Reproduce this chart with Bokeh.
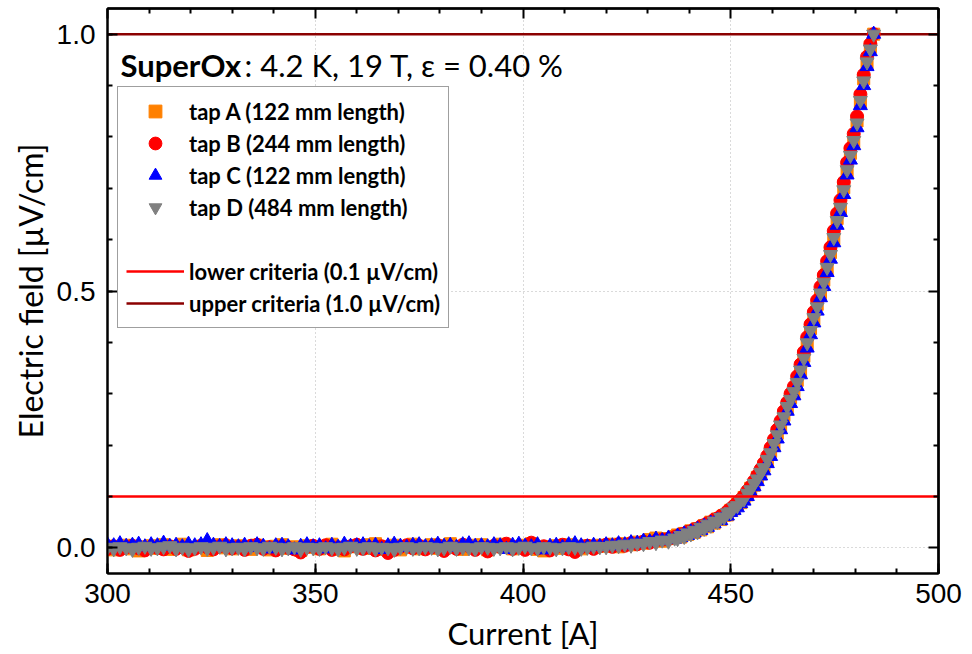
from bokeh.plotting import figure
from bokeh.models import (Range1d, LinearAxis, SingleIntervalTicker, FixedTicker,
                          Legend, LegendItem, Label, PrintfTickFormatter)
from bokeh.embed import file_html
from bokeh.resources import INLINE

# Transport current [A], shared by all voltage taps
current = [
    300.0, 301.5, 303.0, 304.5, 306.0, 307.5, 309.0, 310.5, 312.0, 313.5,
    315.0, 316.5, 318.0, 319.5, 321.0, 322.5, 324.0, 325.5, 327.0, 328.5,
    330.0, 331.5, 333.0, 334.5, 336.0, 337.5, 339.0, 340.5, 342.0, 343.5,
    345.0, 346.5, 348.0, 349.5, 351.0, 352.5, 354.0, 355.5, 357.0, 358.5,
    360.0, 361.5, 363.0, 364.5, 366.0, 367.5, 369.0, 370.5, 372.0, 373.5,
    375.0, 376.5, 378.0, 379.5, 381.0, 382.5, 384.0, 385.5, 387.0, 388.5,
    390.0, 391.5, 393.0, 394.5, 396.0, 397.5, 399.0, 400.5, 402.0, 403.5,
    405.0, 406.5, 408.0, 409.5, 411.0, 412.5, 414.0, 415.5, 417.0, 418.5,
    420.0, 421.5, 423.0, 424.5, 426.0, 427.5, 429.0, 430.5, 432.0, 433.5,
    435.0, 436.5, 437.2, 438.0, 438.8, 439.6, 440.4, 441.2, 442.0, 442.8,
    443.6, 444.4, 445.2, 446.0, 446.8, 447.6, 448.4, 449.2, 450.0, 450.8,
    451.6, 452.4, 453.2, 454.0, 454.8, 455.6, 456.4, 457.2, 458.0, 458.8,
    459.6, 460.4, 461.2, 462.0, 462.8, 463.6, 464.4, 465.2, 466.0, 466.8,
    467.6, 468.4, 469.2, 470.0, 470.8, 471.6, 472.4, 473.2, 474.0, 474.8,
    475.6, 476.4, 477.2, 478.0, 478.8, 479.6, 480.4, 481.2, 482.0, 482.8,
    483.6, 484.4,
]

# Electric field [uV/cm] measured on each tap
tap_a = [
    0.003, -0.004, 0.001, 0.005, -0.002, -0.006, 0.002, 0.004, -0.001, 0.006,
    -0.003, 0.002, 0.007, -0.004, 0.001, 0.003, -0.005, 0.002, 0.006, 0.000,
    -0.002, 0.004, 0.001, -0.003, 0.005, 0.002, -0.004, 0.003, 0.006, -0.001,
    0.002, -0.005, 0.004, 0.001, -0.002, 0.003, 0.007, -0.003, -0.006, 0.002,
    0.004, -0.001, 0.006, 0.008, -0.003, 0.002, 0.005, -0.004, 0.001, 0.007,
    -0.002, 0.003, 0.006, -0.001, 0.004, 0.008, 0.002, -0.003, 0.005, 0.001,
    0.006, -0.004, 0.002, 0.007, 0.003, -0.002, 0.001, 0.005, 0.008, -0.003,
    -0.006, 0.002, 0.004, -0.001, 0.006, 0.003, -0.002, 0.004, 0.001, 0.005,
    0.003, 0.007, 0.002, 0.008, 0.006, 0.011, 0.009, 0.016, 0.019, 0.013,
    0.018, 0.022, 0.025, 0.021, 0.028, 0.026, 0.033, 0.030, 0.037, 0.035,
    0.043, 0.041, 0.050, 0.048, 0.056, 0.055, 0.063, 0.064, 0.073, 0.076,
    0.085, 0.088, 0.098, 0.103, 0.116, 0.122, 0.137, 0.144, 0.159, 0.169,
    0.188, 0.200, 0.223, 0.236, 0.258, 0.272, 0.292, 0.301, 0.326, 0.343,
    0.373, 0.396, 0.427, 0.444, 0.474, 0.492, 0.521, 0.543, 0.575, 0.600,
    0.641, 0.660, 0.701, 0.732, 0.768, 0.789, 0.831, 0.867, 0.913, 0.942,
    0.975, 1.000,
]
tap_b = [
    -0.002, 0.003, -0.004, 0.001, 0.004, -0.001, -0.005, 0.002, 0.000, -0.003,
    0.003, -0.002, 0.001, -0.006, -0.002, 0.004, 0.001, -0.003, 0.003, 0.005,
    -0.001, 0.002, -0.004, 0.004, 0.006, -0.002, 0.001, -0.005, 0.003, 0.000,
    -0.003, -0.009, 0.002, 0.004, -0.002, 0.005, -0.004, 0.001, -0.003, 0.003,
    0.006, -0.002, 0.001, -0.005, 0.003, -0.010, -0.004, 0.002, 0.005, -0.001,
    0.004, -0.003, 0.001, 0.005, -0.006, 0.002, -0.002, 0.006, 0.003, -0.004,
    0.001, -0.007, 0.004, 0.002, 0.008, -0.002, 0.003, -0.004, 0.010, -0.001,
    0.003, -0.005, 0.002, 0.006, -0.003, -0.008, 0.001, 0.004, -0.002, 0.003,
    0.006, 0.002, 0.007, 0.004, 0.009, 0.007, 0.012, 0.010, 0.014, 0.016,
    0.017, 0.021, 0.023, 0.026, 0.027, 0.031, 0.032, 0.036, 0.037, 0.042,
    0.044, 0.048, 0.049, 0.055, 0.057, 0.062, 0.065, 0.071, 0.076, 0.082,
    0.088, 0.094, 0.101, 0.111, 0.119, 0.130, 0.141, 0.153, 0.165, 0.179,
    0.195, 0.211, 0.230, 0.247, 0.266, 0.283, 0.300, 0.314, 0.334, 0.357,
    0.381, 0.410, 0.435, 0.459, 0.482, 0.508, 0.531, 0.558, 0.585, 0.617,
    0.651, 0.677, 0.712, 0.750, 0.778, 0.806, 0.840, 0.883, 0.921, 0.956,
    0.981, 1.000,
]
tap_c = [
    0.006, 0.004, 0.008, 0.003, 0.005, 0.007, 0.002, 0.006, 0.004, 0.009,
    0.003, 0.005, 0.002, 0.007, 0.004, 0.006, 0.014, 0.005, 0.003, 0.006,
    0.004, 0.002, 0.005, 0.001, 0.006, 0.003, -0.002, 0.004, 0.005, 0.002,
    -0.004, 0.003, 0.006, 0.002, 0.004, -0.002, 0.005, 0.001, 0.007, 0.003,
    0.004, 0.006, 0.002, 0.005, -0.003, 0.004, 0.007, 0.003, 0.001, 0.005,
    0.006, 0.002, 0.004, 0.007, 0.003, 0.005, 0.001, 0.006, 0.008, 0.003,
    0.004, 0.002, 0.006, 0.004, -0.003, 0.005, 0.007, 0.003, 0.002, 0.006,
    -0.004, 0.003, 0.005, 0.001, 0.006, 0.008, 0.004, 0.002, 0.005, 0.003,
    0.006, 0.004, 0.008, 0.006, 0.010, 0.009, 0.013, 0.012, 0.017, 0.014,
    0.019, 0.017, 0.023, 0.020, 0.027, 0.024, 0.031, 0.029, 0.036, 0.034,
    0.042, 0.040, 0.048, 0.047, 0.054, 0.053, 0.061, 0.062, 0.069, 0.073,
    0.078, 0.086, 0.091, 0.100, 0.108, 0.119, 0.129, 0.140, 0.150, 0.164,
    0.178, 0.195, 0.212, 0.230, 0.247, 0.266, 0.281, 0.296, 0.314, 0.337,
    0.361, 0.389, 0.415, 0.438, 0.461, 0.487, 0.509, 0.536, 0.562, 0.594,
    0.628, 0.653, 0.688, 0.726, 0.755, 0.783, 0.818, 0.861, 0.900, 0.937,
    0.966, 1.000,
]
tap_d = [
    0.001, -0.002, 0.002, 0.000, -0.003, 0.001, 0.003, -0.001, 0.000, 0.002,
    0.004, -0.002, 0.001, -0.003, 0.000, 0.002, -0.001, 0.001, 0.003, -0.002,
    0.000, 0.001, -0.002, 0.002, 0.000, -0.001, 0.003, 0.001, -0.002, 0.000,
    0.002, -0.003, 0.001, 0.000, -0.001, 0.002, 0.000, -0.002, 0.001, 0.003,
    -0.001, 0.000, 0.002, -0.002, 0.001, 0.000, -0.003, 0.001, 0.002, -0.001,
    0.000, 0.002, 0.001, -0.002, 0.000, 0.003, -0.001, 0.001, 0.000, -0.002,
    0.002, 0.001, -0.001, 0.000, 0.002, -0.002, 0.001, 0.003, 0.000, -0.001,
    0.002, 0.001, -0.002, 0.000, 0.002, 0.001, -0.001, 0.001, 0.003, 0.002,
    0.002, 0.005, 0.004, 0.007, 0.005, 0.009, 0.008, 0.012, 0.010, 0.015,
    0.013, 0.019, 0.018, 0.024, 0.022, 0.029, 0.027, 0.034, 0.031, 0.040,
    0.038, 0.046, 0.044, 0.052, 0.051, 0.059, 0.060, 0.068, 0.070, 0.079,
    0.082, 0.091, 0.095, 0.106, 0.113, 0.125, 0.134, 0.147, 0.156, 0.172,
    0.185, 0.203, 0.220, 0.239, 0.255, 0.275, 0.289, 0.304, 0.322, 0.346,
    0.369, 0.399, 0.423, 0.448, 0.469, 0.496, 0.517, 0.546, 0.571, 0.604,
    0.637, 0.663, 0.697, 0.736, 0.764, 0.793, 0.827, 0.871, 0.909, 0.946,
    0.971, 1.000,
]

tap_labels = [
    "tap A (122 mm length)",
    "tap B (244 mm length)",
    "tap C (122 mm length)",
    "tap D (484 mm length)",
]
lower_criteria = 0.1
upper_criteria = 1.0
lower_label = "lower criteria (0.1 \u00b5V/cm)"
upper_label = "upper criteria (1.0 \u00b5V/cm)"
x_title = "Current [A]"
y_title = "Electric field [\u00b5V/cm]"
x_limits = (300, 500)
y_limits = (-0.05, 1.05)
x_major, x_minor_count = 50, 5
y_major, y_minor_count = 0.5, 5

TEXT_FONT = "Lato"
TICK_FONT = "Liberation Sans"

p = figure(width=972, height=654, output_backend="svg", toolbar_location=None,
           x_range=Range1d(*x_limits), y_range=Range1d(*y_limits),
           min_border_left=107, min_border_right=34, min_border_top=8,
           min_border_bottom=81)
p.background_fill_color = "white"
p.border_fill_color = "white"
p.outline_line_color = "black"
p.outline_line_width = 2


def style_ticks(ax):
    ax.axis_line_width = 2
    ax.axis_line_color = "black"
    ax.major_tick_in = 10
    ax.major_tick_out = 0
    ax.minor_tick_in = 5
    ax.minor_tick_out = 0
    ax.major_tick_line_width = 2
    ax.minor_tick_line_width = 2
    ax.major_tick_line_color = "black"
    ax.minor_tick_line_color = "black"


def style_labels(ax, title_size):
    ax.major_label_text_font = TICK_FONT
    ax.major_label_text_font_size = "28px"
    ax.major_label_text_color = "black"
    ax.axis_label_text_font = TEXT_FONT
    ax.axis_label_text_font_style = "normal"
    ax.axis_label_text_font_size = title_size
    ax.axis_label_text_color = "black"


x_ticker = SingleIntervalTicker(interval=x_major, num_minor_ticks=x_minor_count)
y_ticker = SingleIntervalTicker(interval=y_major, num_minor_ticks=y_minor_count)

xa = p.xaxis[0]
xa.ticker = x_ticker
xa.axis_label = x_title
style_ticks(xa)
style_labels(xa, "31px")
xa.major_label_standoff = 10
xa.axis_label_standoff = 8

ya = p.yaxis[0]
ya.ticker = y_ticker
ya.formatter = PrintfTickFormatter(format="%.1f")
ya.axis_label = y_title
style_ticks(ya)
style_labels(ya, "32px")
ya.major_label_standoff = 12
ya.axis_label_standoff = 4


def mirror_axes(lo, hi, step, count, side):
    """Unlabelled tick-only axes on the opposite frame edge."""
    major = []
    minor = []
    v = lo
    k = 0
    sub = step / count
    while v <= hi + 1e-9:
        (major if k % count == 0 else minor).append(round(v, 6))
        k += 1
        v = lo + k * sub
    for ticks, length in ((major, 10), (minor, 5)):
        ax = LinearAxis(ticker=FixedTicker(ticks=[], minor_ticks=ticks))
        ax.axis_line_width = 2
        ax.axis_line_color = "black"
        ax.major_tick_in = 0
        ax.major_tick_out = 0
        ax.minor_tick_in = length
        ax.minor_tick_out = 0
        ax.minor_tick_line_width = 2
        ax.minor_tick_line_color = "black"
        ax.major_label_standoff = 0
        ax.axis_label_standoff = 0
        p.add_layout(ax, side)


mirror_axes(x_limits[0], x_limits[1], x_major, x_minor_count, "above")
mirror_axes(-0.5, 1.5, y_major, y_minor_count, "right")

for g in (p.xgrid[0], p.ygrid[0]):
    g.grid_line_color = "#b4b4b4"
    g.grid_line_dash = "1 3"
    g.grid_line_width = 1
p.xgrid[0].ticker = x_ticker
p.ygrid[0].ticker = y_ticker

# upper criterion sits under the data points
upper_line = p.line(x=list(x_limits), y=[upper_criteria, upper_criteria],
                    line_color="#8b0000", line_width=2.5)

r_a = p.scatter(current, tap_a, marker="square", size=12,
                fill_color="#ff8000", line_color="#ff8000")
r_b = p.scatter(current, tap_b, marker="circle", size=13,
                fill_color="#ff0000", line_color="#ff0000")
r_c = p.scatter(current, tap_c, marker="triangle", size=14,
                fill_color="#0000ff", line_color="#0000ff")
r_d = p.scatter(current, tap_d, marker="inverted_triangle", size=14,
                fill_color="#808080", line_color="#808080")

lower_line = p.line(x=list(x_limits), y=[lower_criteria, lower_criteria],
                    line_color="#ff0000", line_width=2.5)

# invisible entry that leaves an empty row in the legend
spacer = p.scatter(x=[], y=[], fill_alpha=0, line_alpha=0)

legend = Legend(
    items=[
        LegendItem(label=tap_labels[0], renderers=[r_a]),
        LegendItem(label=tap_labels[1], renderers=[r_b]),
        LegendItem(label=tap_labels[2], renderers=[r_c]),
        LegendItem(label=tap_labels[3], renderers=[r_d]),
        LegendItem(label=" ", renderers=[spacer]),
        LegendItem(label=lower_label, renderers=[lower_line]),
        LegendItem(label=upper_label, renderers=[upper_line]),
    ],
    location=(10, 245),
    orientation="vertical",
    border_line_color="#404040",
    border_line_width=1,
    background_fill_color="white",
    background_fill_alpha=1,
    padding=8,
    spacing=0,
    margin=0,
    glyph_width=58,
    glyph_height=32,
    label_standoff=5,
    label_height=20,
    label_text_font=TEXT_FONT,
    label_text_font_style="bold",
    label_text_font_size="22px",
    label_text_color="black",
)
p.add_layout(legend, "center")

# plot caption: bold sample name followed by the measurement conditions
title_bold = Label(x=13, y=509, x_units="screen", y_units="screen",
                   text="SuperOx", text_font=TEXT_FONT, text_font_style="bold",
                   text_font_size="31px", text_color="black",
                   text_baseline="alphabetic")
title_rest = Label(x=137, y=509, x_units="screen", y_units="screen",
                   text=": 4.2 K, 19 T, \u03b5 = 0.40 %", text_font=TEXT_FONT,
                   text_font_size="31px", text_color="black",
                   text_baseline="alphabetic")
p.add_layout(title_bold)
p.add_layout(title_rest)

open("out.html", "w").write(file_html(p, INLINE))
